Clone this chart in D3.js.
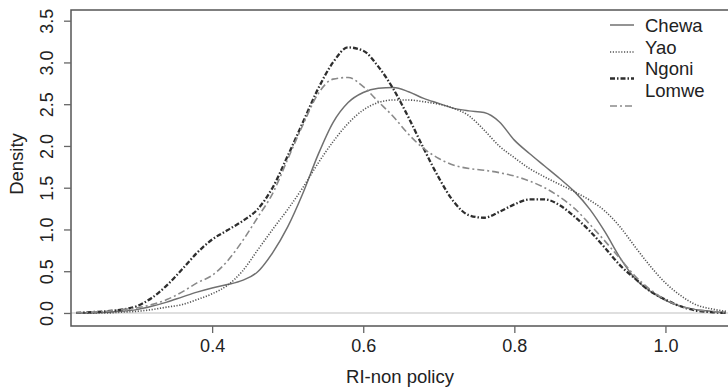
<!DOCTYPE html>
<html>
<head>
<meta charset="utf-8">
<script src="https://cdn.jsdelivr.net/npm/d3@7"></script>
<style>
  body { margin: 0; background: #fff; }
  svg { display: block; font-family: "Liberation Sans", Arial, sans-serif; }
</style>
</head>
<body>
<svg width="728" height="390"></svg>
<script>
const xs = [0.22, 0.24, 0.26, 0.28, 0.30, 0.32, 0.34, 0.36, 0.38, 0.40, 0.42, 0.44, 0.46, 0.48, 0.50,
  0.52, 0.54, 0.56, 0.58, 0.60, 0.62, 0.64, 0.66, 0.68, 0.70, 0.72, 0.74, 0.76, 0.78, 0.80,
  0.82, 0.84, 0.86, 0.88, 0.90, 0.92, 0.94, 0.96, 0.98, 1.00, 1.02, 1.04, 1.06, 1.08];

const chewa = [0.0, 0.0, 0.01, 0.02, 0.04, 0.08, 0.13, 0.19, 0.25, 0.30, 0.34, 0.39, 0.49, 0.72, 1.03,
  1.43, 1.89, 2.28, 2.52, 2.64, 2.69, 2.70, 2.65, 2.57, 2.51, 2.45, 2.42, 2.40, 2.29, 2.07,
  1.91, 1.76, 1.61, 1.45, 1.24, 0.97, 0.66, 0.41, 0.26, 0.15, 0.08, 0.04, 0.02, 0.0];

const yao = [0.0, 0.0, 0.0, 0.01, 0.02, 0.04, 0.07, 0.10, 0.16, 0.23, 0.33, 0.50, 0.75, 1.00, 1.24,
  1.50, 1.79, 2.05, 2.27, 2.43, 2.52, 2.55, 2.55, 2.53, 2.50, 2.45, 2.36, 2.19, 2.00, 1.86,
  1.73, 1.63, 1.54, 1.45, 1.35, 1.22, 1.03, 0.79, 0.56, 0.36, 0.21, 0.10, 0.05, 0.02];

const ngoni = [0.0, 0.01, 0.02, 0.04, 0.08, 0.18, 0.33, 0.52, 0.72, 0.88, 0.99, 1.10, 1.24, 1.50, 1.88,
  2.28, 2.68, 3.00, 3.18, 3.14, 2.95, 2.68, 2.34, 1.97, 1.62, 1.33, 1.17, 1.14, 1.21, 1.30,
  1.36, 1.36, 1.29, 1.15, 0.98, 0.78, 0.57, 0.41, 0.26, 0.16, 0.08, 0.03, 0.01, 0.0];

const lomwe = [0.0, 0.01, 0.02, 0.04, 0.06, 0.10, 0.16, 0.25, 0.36, 0.45, 0.62, 0.86, 1.14, 1.43, 1.84,
  2.25, 2.62, 2.80, 2.82, 2.71, 2.53, 2.35, 2.14, 1.97, 1.85, 1.77, 1.73, 1.71, 1.68, 1.64,
  1.58, 1.50, 1.39, 1.25, 1.06, 0.86, 0.65, 0.44, 0.28, 0.16, 0.08, 0.04, 0.02, 0.0];

const groups = ["Chewa", "Yao", "Ngoni", "Lomwe"];
const xTicks = [0.4, 0.6, 0.8, 1.0];
const yTicks = [0.0, 0.5, 1.0, 1.5, 2.0, 2.5, 3.0, 3.5];

const styles = {
  Chewa: { color: "#707070", width: 1.5, dash: null },
  Yao:   { color: "#555", width: 1.6, dash: "1.2,1.6" },
  Ngoni: { color: "#2e2e2e", width: 2.3, dash: "5,2,1.5,2" },
  Lomwe: { color: "#8a8a8a", width: 1.6, dash: "7,3,2,3" }
};

const svg = d3.select("svg");
const margin = { top: 10, right: 0, bottom: 64, left: 71 };
const width = +svg.attr("width") - margin.left - margin.right;
const height = +svg.attr("height") - margin.top - margin.bottom;
const g = svg.append("g").attr("transform", `translate(${margin.left},${margin.top})`);

const x = d3.scaleLinear().domain([0.2132, 1.0828]).range([0, width]);
const y = d3.scaleLinear().domain([-0.156, 3.628]).range([height, 0]);

// zero line like plot.density
g.append("line")
  .attr("x1", 0).attr("x2", width)
  .attr("y1", y(0)).attr("y2", y(0))
  .attr("stroke", "#d4d4d4")
  .attr("stroke-width", 1.5);

const series = [
  { key: "Chewa", values: chewa },
  { key: "Yao", values: yao },
  { key: "Ngoni", values: ngoni },
  { key: "Lomwe", values: lomwe }
];

const line = d3.line()
  .x((d, i) => x(xs[i]))
  .y(d => y(d))
  .curve(d3.curveMonotoneX);

g.selectAll("path.density")
  .data(series)
  .join("path")
    .attr("class", "density")
    .attr("fill", "none")
    .attr("stroke", d => styles[d.key].color)
    .attr("stroke-width", d => styles[d.key].width)
    .attr("stroke-dasharray", d => styles[d.key].dash)
    .attr("d", d => line(d.values));

// box (right side falls off the picture)
g.append("path")
  .attr("d", `M${width + 2},0H0V${height}H${width + 2}`)
  .attr("fill", "none")
  .attr("stroke", "#555")
  .attr("stroke-width", 1.5);

const xAxis = g.append("g")
  .attr("transform", `translate(0,${height})`)
  .call(d3.axisBottom(x).tickValues(xTicks).tickFormat(d3.format(".1f")).tickSize(7).tickPadding(6));
xAxis.select(".domain").remove();
xAxis.selectAll("line").attr("stroke", "#666").attr("stroke-width", 1.3);
xAxis.selectAll("text")
  .style("font-size", "18px")
  .attr("fill", "#222");

const yAxis = g.append("g")
  .call(d3.axisLeft(y).tickValues(yTicks).tickFormat(d3.format(".1f")).tickSize(7));
yAxis.select(".domain").remove();
yAxis.selectAll("line").attr("stroke", "#666").attr("stroke-width", 1.3);
yAxis.selectAll("text")
  .attr("x", null).attr("dy", null)
  .attr("transform", "translate(-24,0) rotate(-90)")
  .attr("text-anchor", "middle")
  .attr("dominant-baseline", "central")
  .style("font-size", "18px")
  .attr("fill", "#222");

svg.append("text")
  .attr("x", margin.left + 329)
  .attr("y", 383)
  .attr("text-anchor", "middle")
  .style("font-size", "18.5px")
  .attr("fill", "#222")
  .text("RI-non policy");

svg.append("text")
  .attr("transform", `translate(16,${margin.top + height / 2 - 4}) rotate(-90)`)
  .attr("text-anchor", "middle")
  .attr("dominant-baseline", "central")
  .style("font-size", "18.5px")
  .attr("fill", "#222")
  .text("Density");

// legend: samples drift below the labels, as in the source
const legendText = [25, 47, 68.5, 90];
const legendLine = [25, 52, 78.5, 106];
const legend = svg.append("g").attr("class", "legend");
groups.forEach((k, i) => {
  legend.append("line")
    .attr("x1", 610).attr("x2", 634)
    .attr("y1", legendLine[i]).attr("y2", legendLine[i])
    .attr("stroke", styles[k].color)
    .attr("stroke-width", styles[k].width)
    .attr("stroke-dasharray", styles[k].dash);
  legend.append("text")
    .attr("x", 645)
    .attr("y", legendText[i])
    .attr("dominant-baseline", "central")
    .style("font-size", "18.5px")
    .attr("fill", "#222")
    .text(k);
});
</script>
</body>
</html>
